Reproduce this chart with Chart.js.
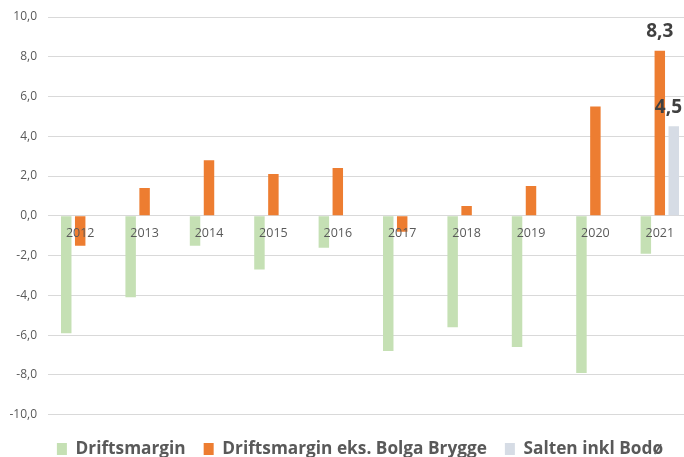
<!DOCTYPE html>
<html>
<head>
<meta charset="utf-8">
<script src="https://cdn.jsdelivr.net/npm/chart.js@4/dist/chart.umd.min.js"></script>
<style>
  html, body { margin: 0; padding: 0; background: #fff; overflow: hidden; }
  #wrap { width: 720px; height: 457px; }
</style>
</head>
<body>
<div id="wrap"><canvas id="chart" width="720" height="457"></canvas></div>
<script>
const years = ['2012', '2013', '2014', '2015', '2016', '2017', '2018', '2019', '2020', '2021'];
const driftsmargin = [-5.9, -4.1, -1.5, -2.7, -1.6, -6.8, -5.6, -6.6, -7.9, -1.9];
const driftsmarginEks = [-1.5, 1.4, 2.8, 2.1, 2.4, -0.8, 0.5, 1.5, 5.5, 8.3];
const saltenInklBodo = [null, null, null, null, null, null, null, null, null, 4.5];
const yTicks = [-10, -8, -6, -4, -2, 0, 2, 4, 6, 8, 10];

const textColor = '#595959';
const fmt = v => v.toFixed(1).replace('.', ',');

// verdiaksen: tallene tegnes til venstre for plottet
const yLabels = {
  id: 'yLabels',
  afterDraw(chart) {
    const ctx = chart.ctx;
    const ys = chart.scales.y;
    ctx.save();
    ctx.font = '12px "Open Sans", sans-serif';
    ctx.fillStyle = textColor;
    ctx.textAlign = 'right';
    ctx.textBaseline = 'middle';
    yTicks.forEach(v => ctx.fillText(fmt(v), chart.chartArea.left - 11, ys.getPixelForValue(v)));
    ctx.restore();
  }
};

// årstall ved nullinjen, tegnet over stolpene
const yearLabels = {
  id: 'yearLabels',
  afterDatasetsDraw(chart) {
    const ctx = chart.ctx;
    const xs = chart.scales.x;
    const y0 = chart.scales.y.getPixelForValue(0);
    ctx.save();
    ctx.font = '12.5px "Open Sans", sans-serif';
    ctx.fillStyle = textColor;
    ctx.textAlign = 'center';
    ctx.textBaseline = 'middle';
    chart.data.labels.forEach((lab, i) => {
      ctx.fillText(lab, xs.getPixelForTick(i), y0 + 18);
    });
    ctx.restore();
  }
};

// etiketter over de siste stolpene (8,3 og 4,5)
const topLabels = {
  id: 'topLabels',
  afterDatasetsDraw(chart) {
    const ctx = chart.ctx;
    ctx.save();
    ctx.font = 'bold 19px "Open Sans", sans-serif';
    ctx.fillStyle = '#404040';
    ctx.textAlign = 'center';
    ctx.textBaseline = 'middle';
    [1, 2].forEach(di => {
      const meta = chart.getDatasetMeta(di);
      const last = meta.data.length - 1;
      const bar = meta.data[last];
      const val = chart.data.datasets[di].data[last];
      if (!bar || val == null) return;
      const txt = fmt(val);
      const w = ctx.measureText(txt).width;
      const x = Math.min(bar.x, 684 - w / 2 - 2);
      ctx.fillText(txt, x, bar.y - 19);
    });
    ctx.restore();
  }
};

new Chart(document.getElementById('chart').getContext('2d'), {
  type: 'bar',
  data: {
    labels: years,
    datasets: [
      { label: 'Driftsmargin', data: driftsmargin, backgroundColor: '#c5e0b4' },
      { label: 'Driftsmargin eks. Bolga Brygge', data: driftsmarginEks, backgroundColor: '#ed7d31' },
      { label: 'Salten inkl Bodø', data: saltenInklBodo, backgroundColor: '#d6dce5' }
    ]
  },
  options: {
    responsive: false,
    animation: false,
    layout: { padding: { top: 17, right: 28, left: 28, bottom: -10.5 } },
    datasets: { bar: { barPercentage: 0.75, categoryPercentage: 0.65 } },
    plugins: {
      tooltip: { enabled: false },
      legend: {
        position: 'bottom',
        labels: {
          color: textColor,
          font: { family: '"Open Sans", sans-serif', size: 17.25, weight: 'bold' },
          boxWidth: 10,
          boxHeight: 12,
          padding: 18
        }
      }
    },
    scales: {
      x: {
        position: { y: 0 },
        grid: { display: false, drawTicks: false },
        border: { display: false },
        ticks: { display: false }
      },
      y: {
        min: -10.38,
        max: 10,
        afterBuildTicks(scale) { scale.ticks = yTicks.map(v => ({ value: v })); },
        afterFit(scale) { scale.width = 20; },
        grid: { color: '#d9d9d9', drawTicks: false },
        border: { display: false },
        ticks: { display: false }
      }
    }
  },
  plugins: [yLabels, yearLabels, topLabels]
});
</script>
</body>
</html>
